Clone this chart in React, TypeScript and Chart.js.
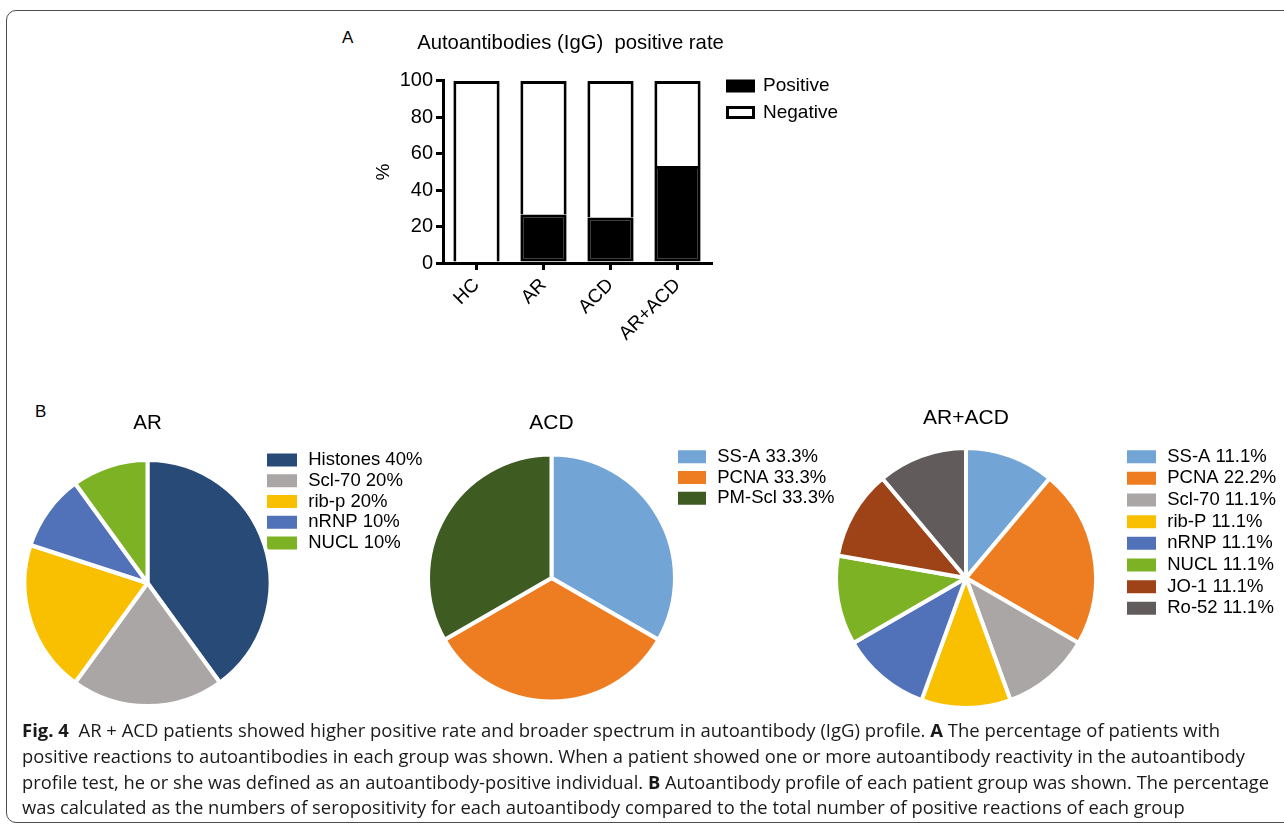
import React, { useEffect, useLayoutEffect, useRef } from 'react';
import { Chart, registerables } from 'chart.js';

Chart.register(...registerables);

// ---------- Panel A data ----------
const groups = ['HC', 'AR', 'ACD', 'AR+ACD'];
const positivePct = [0, 26.7, 25, 53.3];
const negativePct = [100, 73.3, 75, 46.7];
const yMin = 0;
const yMax = 100;
const yStep = 20;

// ---------- Panel B data ----------
const arLabels = ['Histones 40%', 'Scl-70 20%', 'rib-p 20%', 'nRNP 10%', 'NUCL 10%'];
const arValues = [40, 20, 20, 10, 10];
const acdLabels = ['SS-A 33.3%', 'PCNA 33.3%', 'PM-Scl 33.3%'];
const acdValues = [33.3, 33.3, 33.3];
const bothLabels = ['SS-A 11.1%', 'PCNA 22.2%', 'Scl-70 11.1%', 'rib-P 11.1%', 'nRNP 11.1%', 'NUCL 11.1%', 'JO-1 11.1%', 'Ro-52 11.1%'];
const bothValues = [11.1, 22.2, 11.1, 11.1, 11.1, 11.1, 11.1, 11.1];

// ---------- colours ----------
const arColors = ['#284a77', '#a9a6a5', '#f9c001', '#5171b9', '#7cb223'];
const acdColors = ['#72a5d6', '#ee7d22', '#3e5b21'];
const bothColors = ['#72a5d6', '#ee7d22', '#a9a6a5', '#f9c001', '#5171b9', '#7cb223', '#9e4217', '#615c5b'];

const FONT = "'Liberation Sans', Arial, Helvetica, sans-serif";

function placeBlocks(x: number, y: number, titleShift = 0) {
  return {
    id: 'placeBlocks',
    afterLayout(chart: any) {
      const lg = chart.legend;
      if (lg) {
        lg.left = x;
        lg.top = y;
        lg.right = chart.width;
        lg.bottom = chart.height;
        lg.width = lg.right - lg.left;
        lg.height = lg.bottom - lg.top;
      }
      const tb = chart.titleBlock;
      if (tb && titleShift) {
        tb.left += titleShift;
        tb.right += titleShift;
      }
    },
  };
}

function barConfig(): any {
  return {
    type: 'bar',
    data: {
      labels: groups,
      datasets: [
        { label: 'Positive', data: positivePct, backgroundColor: '#000', borderColor: '#000', borderWidth: 3, borderSkipped: false },
        { label: 'Negative', data: negativePct, backgroundColor: '#fff', borderColor: '#000', borderWidth: 3, borderSkipped: 'start' },
      ],
    },
    options: {
      animation: false,
      responsive: false,
      devicePixelRatio: 1,
      events: [],
      layout: { padding: { left: 0, right: 159, top: 0, bottom: 0 } },
      datasets: { bar: { categoryPercentage: 1, barPercentage: 0.69 } },
      scales: {
        x: {
          stacked: true,
          offset: true,
          grid: { display: true, drawOnChartArea: false, drawTicks: true, tickLength: 7, lineWidth: 3, color: '#000', offset: false },
          border: { display: true, color: '#000', width: 3 },
          ticks: { color: '#000', font: { family: FONT, size: 19 }, minRotation: 45, maxRotation: 45, padding: 4, autoSkip: false },
          afterFit: (s: any) => { s.height = 102; },
        },
        y: {
          stacked: true,
          min: yMin,
          max: yMax,
          ticks: { stepSize: yStep, color: '#000', font: { family: FONT, size: 20 }, padding: 3 },
          grid: { display: true, drawOnChartArea: false, drawTicks: true, tickLength: 7, lineWidth: 3, color: '#000' },
          border: { display: true, color: '#000', width: 3 },
          title: { display: true, text: '%', color: '#000', font: { family: FONT, size: 19 }, padding: { top: 42.6, bottom: 0 } },
          afterFit: (s: any) => { s.width = 113; },
        },
      },
      plugins: {
        title: {
          display: true,
          text: 'Autoantibodies (IgG)  positive rate',
          fullSize: true,
          color: '#000',
          font: { family: FONT, size: 20.3, weight: 'normal' },
          padding: { top: 11, bottom: 25.6 },
        },
        legend: {
          position: 'chartArea',
          align: 'start',
          labels: { boxWidth: 26, boxHeight: 10, color: '#000', font: { family: FONT, size: 19 }, padding: 7.5 },
        },
        tooltip: { enabled: false },
      },
    },
    plugins: [placeBlocks(390, 49, 50)],
  };
}

function pieConfig(
  labels: string[], values: number[], colors: string[], title: string,
  p: { radius: number; pad: { left: number; right: number; top: number; bottom: number }; titleSize: number; titleBottom: number;
       boxW: number; boxH: number; legPad: number; legX: number; legY: number }
): any {
  return {
    type: 'pie',
    data: {
      labels,
      datasets: [{ data: values, backgroundColor: colors, borderColor: '#fff', borderWidth: 4, radius: p.radius }],
    },
    options: {
      animation: false,
      responsive: false,
      devicePixelRatio: 1,
      events: [],
      layout: { padding: p.pad },
      plugins: {
        title: {
          display: true,
          text: title,
          fullSize: false,
          color: '#000',
          font: { family: FONT, size: p.titleSize, weight: 'normal' },
          padding: { top: 0, bottom: p.titleBottom },
        },
        legend: {
          position: 'chartArea',
          align: 'start',
          labels: { boxWidth: p.boxW, boxHeight: p.boxH, color: '#000', font: { family: FONT, size: 18.5 }, padding: p.legPad },
        },
        tooltip: { enabled: false },
      },
    },
    plugins: [placeBlocks(p.legX, p.legY)],
  };
}

function ChartBox({ left, top, width, height, make }: { left: number; top: number; width: number; height: number; make: () => any }) {
  const ref = useRef<HTMLCanvasElement>(null);
  useEffect(() => {
    const chart = new Chart(ref.current as HTMLCanvasElement, make());
    return () => chart.destroy();
  }, []);
  return (
    <div style={{ position: 'absolute', left, top, width, height }}>
      <canvas ref={ref} width={width} height={height} style={{ width, height, display: 'block' }} />
    </div>
  );
}

const captionLines: { t: string; b?: boolean }[][] = [
  [{ t: 'Fig. 4', b: true }, { t: '  AR + ACD patients showed higher positive rate and broader spectrum in autoantibody (IgG) profile. ' }, { t: 'A', b: true }, { t: ' The percentage of patients with' }],
  [{ t: 'positive reactions to autoantibodies in each group was shown. When a patient showed one or more autoantibody reactivity in the autoantibody' }],
  [{ t: 'profile test, he or she was defined as an autoantibody-positive individual. ' }, { t: 'B', b: true }, { t: ' Autoantibody profile of each patient group was shown. The percentage' }],
  [{ t: 'was calculated as the numbers of seropositivity for each autoantibody compared to the total number of positive reactions of each group' }],
];
const captionTargets = [1198, 1223, 1247];

function Caption() {
  const refs = useRef<(HTMLSpanElement | null)[]>([]);
  useLayoutEffect(() => {
    const els = refs.current;
    const scales = captionTargets.map((t, i) => t / (els[i] as HTMLSpanElement).getBoundingClientRect().width);
    const avg = scales.reduce((a, b) => a + b, 0) / scales.length;
    els.forEach((el, i) => {
      if (el) el.style.transform = `scaleX(${i < scales.length ? scales[i] : avg})`;
    });
  }, []);
  const tops = [717, 743, 769, 794];
  return (
    <>
      {captionLines.map((line, i) => (
        <span
          key={i}
          ref={(el) => { refs.current[i] = el; }}
          style={{
            position: 'absolute', left: 22, top: tops[i], whiteSpace: 'pre', display: 'inline-block',
            fontFamily: "'Open Sans', 'Noto Sans', sans-serif", fontSize: 18, lineHeight: '26px', color: '#1a1a1a',
            transformOrigin: '0 0',
          }}
        >
          {line.map((s, j) => (s.b ? <b key={j}>{s.t}</b> : <span key={j}>{s.t}</span>))}
        </span>
      ))}
    </>
  );
}

export default function App() {
  return (
    <div style={{ position: 'absolute', left: 0, top: 0, width: 1284, height: 829, overflow: 'hidden', background: '#fff' }}>
      <div style={{ position: 'absolute', left: 6, top: 10, width: 1400, height: 813, boxSizing: 'border-box', border: '1.5px solid #4d4d4d', borderRadius: 10 }} />
      <div style={{ position: 'absolute', left: 342, top: 29, fontFamily: FONT, fontSize: 17, lineHeight: '17px', color: '#000' }}>A</div>
      <div style={{ position: 'absolute', left: 35, top: 403, fontFamily: FONT, fontSize: 17, lineHeight: '17px', color: '#000' }}>B</div>

      <ChartBox left={330} top={20} width={540} height={345} make={barConfig} />

      <ChartBox
        left={0} top={395} width={440} height={330}
        make={() => pieConfig(arLabels, arValues, arColors, 'AR', {
          radius: 123, pad: { left: 21.5, right: 166.5, top: 15.7, bottom: 16 }, titleSize: 20.5, titleBottom: 21.7,
          boxW: 34, boxH: 17, legPad: 2.25, legX: 262.75, legY: 53.5,
        })}
      />
      <ChartBox
        left={420} top={395} width={425} height={330}
        make={() => pieConfig(acdLabels, acdValues, acdColors, 'ACD', {
          radius: 123.5, pad: { left: 5.5, right: 167.5, top: 15.4, bottom: 21 }, titleSize: 21, titleBottom: 16.4,
          boxW: 32, boxH: 17, legPad: 2.3, legX: 253.7, legY: 50.15,
        })}
      />
      <ChartBox
        left={820} top={390} width={464} height={335}
        make={() => pieConfig(bothLabels, bothValues, bothColors, 'AR+ACD', {
          radius: 130, pad: { left: 14, right: 186, top: 15.4, bottom: 15 }, titleSize: 21, titleBottom: 15.4,
          boxW: 33, boxH: 17, legPad: 3.16, legX: 301.84, legY: 54.29,
        })}
      />

      <Caption />
    </div>
  );
}
